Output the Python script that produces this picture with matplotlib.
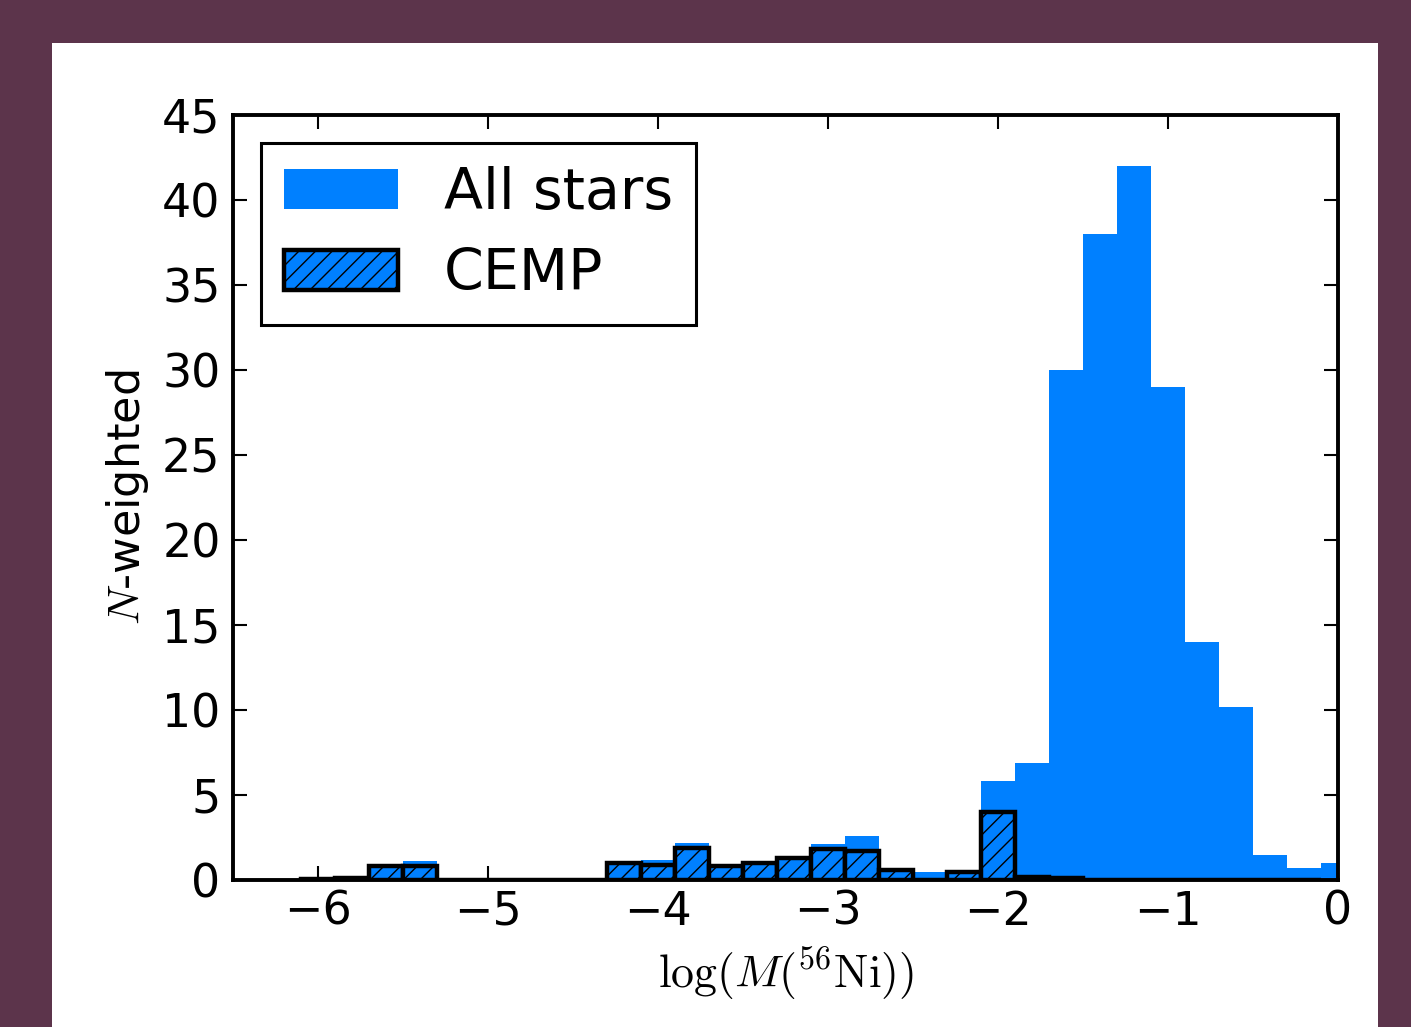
import matplotlib
matplotlib.use("Agg")
import matplotlib.pyplot as plt
from matplotlib.patches import Rectangle
import numpy as np

# bin edges of the histogram (width 0.2 in log M)
bin_left = np.round(np.arange(-6.5, 0.0, 0.2), 2)
bin_width = 0.2

# N-weighted counts, one value per bin
all_stars = [0, 0, 0.05, 0.1, 0.8, 1.1, 0, 0, 0, 0, 0,
             1.0, 1.2, 2.2, 0.8, 1.0, 1.3, 2.1, 2.6, 0.6, 0.5, 0.5,
             5.8, 6.9, 30, 38, 42, 29, 14, 10.2, 1.5, 0.7, 1.0]
cemp = [0, 0, 0.05, 0.1, 0.8, 0.8, 0, 0, 0, 0, 0,
        1.0, 0.9, 1.9, 0.8, 1.0, 1.3, 1.8, 1.7, 0.6, 0, 0.5,
        4.0, 0.15, 0.1, 0, 0, 0, 0, 0, 0, 0, 0]

x_ticks = [-6, -5, -4, -3, -2, -1, 0]
y_ticks = [0, 5, 10, 15, 20, 25, 30, 35, 40, 45]

blue = "#0080ff"

plt.rcParams["mathtext.fontset"] = "cm"
plt.rcParams["hatch.linewidth"] = 1.0
plt.rcParams["font.family"] = "DejaVu Sans"


def plot():
    fig = plt.figure(figsize=(14.11, 10.27), dpi=100)
    fig.patch.set_facecolor("#5c344b")
    fig.patches.append(Rectangle((52 / 1411, 0), (1378 - 52) / 1411, (1027 - 43) / 1027,
                                 transform=fig.transFigure, facecolor="white",
                                 edgecolor="none", zorder=-10))
    ax = fig.add_axes([233 / 1411, 147 / 1027, (1338 - 233) / 1411, (880 - 115) / 1027])
    ax.set_zorder(1)

    ax.bar(bin_left, all_stars, width=bin_width, align="edge", color=blue,
           edgecolor="none", linewidth=0, label="All stars", zorder=2)
    keep = slice(2, 32)
    ax.bar(bin_left[keep], cemp[keep], width=bin_width, align="edge", color=blue,
           edgecolor="black", linewidth=3.2, hatch="//", label="CEMP", zorder=3)

    ax.set_xlim(-6.5, 0)
    ax.set_ylim(0, 45)
    ax.set_xticks(x_ticks)
    ax.set_yticks(y_ticks)
    ax.tick_params(direction="in", top=True, right=True, length=10, width=1.5,
                   labelsize=33)
    ax.tick_params(axis="x", pad=7)
    ax.tick_params(axis="y", pad=9)
    for s in ax.spines.values():
        s.set_linewidth(2.8)
        s.set_zorder(5)

    ax.set_xlabel(r"$\log(M(^{56}\mathrm{Ni}))$", fontsize=33, labelpad=8)
    ax.set_ylabel(r"$N$-weighted", fontsize=32, labelpad=8)

    leg = ax.legend(loc="upper left", fontsize=41, fancybox=False, framealpha=1,
                    handlelength=2.0, borderpad=0.4, labelspacing=0.45)
    leg.get_frame().set_edgecolor("black")
    leg.get_frame().set_linewidth(2.2)

    fig.savefig("out.png", dpi=100, facecolor=fig.get_facecolor())


if __name__ == "__main__":
    plot()
